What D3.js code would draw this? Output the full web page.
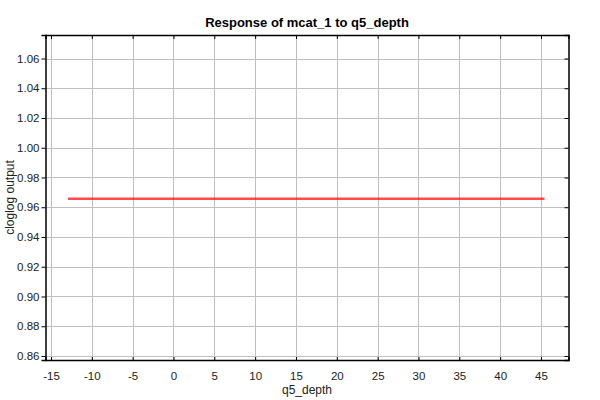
<!DOCTYPE html>
<html><head><meta charset="utf-8">
<script src="https://cdn.jsdelivr.net/npm/d3@7"></script>
<style>body{margin:0;background:#fff}svg{display:block}</style>
</head><body>
<script>
const title = "Response of mcat_1 to q5_depth";
const xLabel = "q5_depth";
const yLabel = "cloglog output";
const xTicks = [-15,-10,-5,0,5,10,15,20,25,30,35,40,45];
const yTicks = [0.86,0.88,0.90,0.92,0.94,0.96,0.98,1.00,1.02,1.04,1.06];
const lineX = [-12.92, 45.43];
const lineY = [0.9657, 0.9657];
const xDomain = [-15.67, 48.37];
const yDomain = [0.8573, 1.0758];

(function(){
const W = 600, H = 400;
const m = {l:45.5, r:568.5, t:35, b:360};
const svg = d3.select("body").append("svg").attr("width", W).attr("height", H);
const x = d3.scaleLinear().domain(xDomain).range([m.l, m.r]);
const y = d3.scaleLinear().domain(yDomain).range([m.b, m.t]);
const font = "Liberation Sans, Arial, sans-serif";

// grid
svg.append("g").selectAll("line").data(xTicks).join("line")
  .attr("x1", d => Math.round(x(d))+0.5).attr("x2", d => Math.round(x(d))+0.5)
  .attr("y1", m.t).attr("y2", m.b).attr("stroke", "#c0c0c0").attr("stroke-width", 1);
svg.append("g").selectAll("line").data(yTicks).join("line")
  .attr("y1", d => Math.round(y(d))+0.5).attr("y2", d => Math.round(y(d))+0.5)
  .attr("x1", m.l).attr("x2", m.r).attr("stroke", "#c0c0c0").attr("stroke-width", 1);

// line
const pts = lineX.map((v,i) => [v, lineY[i]]);
svg.append("path").datum(pts)
  .attr("d", d3.line().x(d => x(d[0])).y(d => y(d[1])))
  .attr("fill", "none").attr("stroke", "#ff0000").attr("stroke-opacity", 0.7).attr("stroke-width", 2.5);

// axes
const fmtY = d3.format(".2f");
const gB = svg.append("g").attr("transform", `translate(0,${m.b})`)
  .call(d3.axisBottom(x).tickValues(xTicks).tickSize(-3).tickPadding(12).tickFormat(d => String(d)));
const gL = svg.append("g").attr("transform", `translate(${m.l},0)`)
  .call(d3.axisLeft(y).tickValues(yTicks).tickSize(4).tickPadding(2).tickFormat(fmtY));
const gT = svg.append("g").attr("transform", `translate(0,${m.t})`)
  .call(d3.axisTop(x).tickValues(xTicks).tickSize(-4).tickFormat(""));
const gR = svg.append("g").attr("transform", `translate(${m.r},0)`)
  .call(d3.axisRight(y).tickValues(yTicks).tickSize(-4).tickFormat(""));
[gB,gL,gT,gR].forEach(g => {
  g.selectAll("path.domain").attr("stroke", "#000").attr("stroke-width", 1.5);
  g.selectAll(".tick line").attr("stroke", "#000");
  g.selectAll("text").attr("font-family", font).attr("font-size", 11.5).attr("fill", "#222");
});

svg.append("text").attr("x", (m.l+m.r)/2).attr("y", 27).attr("text-anchor", "middle")
  .attr("font-family", font).attr("font-weight", "bold").attr("font-size", 13).text(title);
svg.append("text").attr("x", (m.l+m.r)/2).attr("y", 394).attr("text-anchor", "middle")
  .attr("font-family", font).attr("font-size", 12).attr("fill", "#222").text(xLabel);
svg.append("text").attr("transform", `translate(14,${(m.t+m.b)/2}) rotate(-90)`).attr("text-anchor", "middle")
  .attr("font-family", font).attr("font-size", 12).attr("fill", "#222").text(yLabel);
})();
</script>
</body></html>
